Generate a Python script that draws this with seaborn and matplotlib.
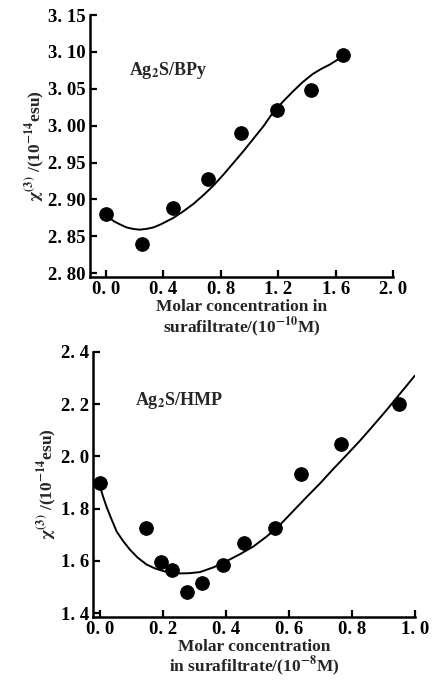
import matplotlib
matplotlib.use("Agg")
import pandas as pd
import matplotlib.pyplot as plt
import seaborn as sns

sns.set_style("ticks")
plt.rcParams["font.family"] = ["Liberation Serif", "DejaVu Serif"]
plt.rcParams["font.weight"] = "bold"
plt.rcParams["axes.labelweight"] = "bold"
plt.rcParams["mathtext.fontset"] = "stix"
plt.rcParams["mathtext.default"] = "bf"

# -------- Ag2S/BPy --------
bpy_x = [0.0, 0.25, 0.47, 0.71, 0.94, 1.19, 1.43, 1.65]
bpy_y = [2.880, 2.839, 2.888, 2.928, 2.990, 3.021, 3.049, 3.096]
bpy_fit_x = [0.03, 0.06, 0.10, 0.145, 0.19, 0.235, 0.28, 0.33, 0.38, 0.42,
             0.47, 0.54, 0.61, 0.68, 0.75, 0.82, 0.89, 0.96, 1.03, 1.10,
             1.16, 1.23, 1.30, 1.37, 1.44, 1.50, 1.56, 1.61, 1.65]
bpy_fit_y = [2.874, 2.870, 2.866, 2.862, 2.860, 2.859, 2.860, 2.862, 2.866,
             2.870, 2.875, 2.884, 2.894, 2.906, 2.919, 2.934, 2.950, 2.966,
             2.983, 3.000, 3.017, 3.032, 3.046, 3.059, 3.070, 3.077, 3.083,
             3.089, 3.094]
bpy_xticks = [0.0, 0.4, 0.8, 1.2, 1.6, 2.0]
bpy_yticks = [2.80, 2.85, 2.90, 2.95, 3.00, 3.05, 3.10, 3.15]

# -------- Ag2S/HMP --------
hmp_x = [0.0, 0.145, 0.194, 0.23, 0.277, 0.325, 0.39, 0.457, 0.556, 0.64,
         0.767, 0.95]
hmp_y = [1.898, 1.725, 1.595, 1.565, 1.480, 1.514, 1.586, 1.668, 1.727,
         1.932, 2.048, 2.200]
hmp_fit_x = [0.0, 0.010, 0.021, 0.037, 0.053, 0.074, 0.095, 0.12, 0.148,
             0.175, 0.201, 0.228, 0.254, 0.285, 0.317, 0.36, 0.402, 0.445,
             0.487, 0.53, 0.571, 0.613, 0.656, 0.70, 0.741, 0.783, 0.825,
             0.868, 0.91, 0.955, 1.0]
hmp_fit_y = [1.884, 1.845, 1.806, 1.758, 1.712, 1.675, 1.643, 1.612, 1.586,
             1.571, 1.561, 1.555, 1.552, 1.553, 1.557, 1.575, 1.599, 1.626,
             1.655, 1.694, 1.737, 1.790, 1.844, 1.898, 1.952, 2.005, 2.059,
             2.118, 2.177, 2.243, 2.309]
hmp_xticks = [0.0, 0.2, 0.4, 0.6, 0.8, 1.0]
hmp_yticks = [1.4, 1.6, 1.8, 2.0, 2.2, 2.4]


def fmt(v, nd):
    s = f"{v:.{nd}f}"
    return s.replace(".", ". ")


def draw_panel(ax, px, py, fx, fy, xticks, yticks, nd_y, xlim, ylim,
               label, xlabel, ylabel, label_pos):
    pts = pd.DataFrame({"x": px, "y": py})
    fit = pd.DataFrame({"x": fx, "y": fy})
    sns.lineplot(data=fit, x="x", y="y", ax=ax, color="black", lw=1.4,
                 sort=False)
    sns.scatterplot(data=pts, x="x", y="y", ax=ax, color="black", s=95,
                    edgecolor="black", zorder=3)
    ax.set_xlim(*xlim)
    ax.set_ylim(*ylim)
    ax.set_xticks(xticks)
    ax.set_xticklabels([fmt(v, 1) for v in xticks], fontsize=13.5)
    ax.set_yticks(yticks)
    ax.set_yticklabels([fmt(v, nd_y) for v in yticks], fontsize=13.5)
    ax.tick_params(direction="in", length=5, width=1.6, colors="black",
                   pad=3)
    for s in ["top", "right"]:
        ax.spines[s].set_visible(False)
    for s in ["left", "bottom"]:
        ax.spines[s].set_linewidth(1.8)
        ax.spines[s].set_color("black")
    ax.set_xlabel(xlabel, fontsize=12.5, linespacing=0.95, labelpad=1)
    ax.set_ylabel(ylabel, fontsize=12.5, labelpad=1)
    ax.text(label_pos[0], label_pos[1], label, transform=ax.transAxes,
            fontsize=13)


fig = plt.figure(figsize=(4.33, 6.82), dpi=100)
ax1 = fig.add_axes([0.208, 0.594, 0.700, 0.384])
ax2 = fig.add_axes([0.215, 0.096, 0.743, 0.388])

ylab = r"$\chi^{(3)}$ /(10$^{-14}$esu)"

draw_panel(ax1, bpy_x, bpy_y, bpy_fit_x, bpy_fit_y, bpy_xticks, bpy_yticks,
           2, (-0.11, 2.0), (2.795, 3.15), r"Ag$_2$S/BPy",
           "Molar concentration in\nsurafiltrate/(10$^{-10}$M)", ylab,
           (0.13, 0.77))
draw_panel(ax2, hmp_x, hmp_y, hmp_fit_x, hmp_fit_y, hmp_xticks, hmp_yticks,
           1, (-0.022, 1.0), (1.387, 2.4), r"Ag$_2$S/HMP",
           "Molar concentration\nin surafiltrate/(10$^{-8}$M)", ylab,
           (0.13, 0.80))

fig.savefig("out.png", dpi=100)
